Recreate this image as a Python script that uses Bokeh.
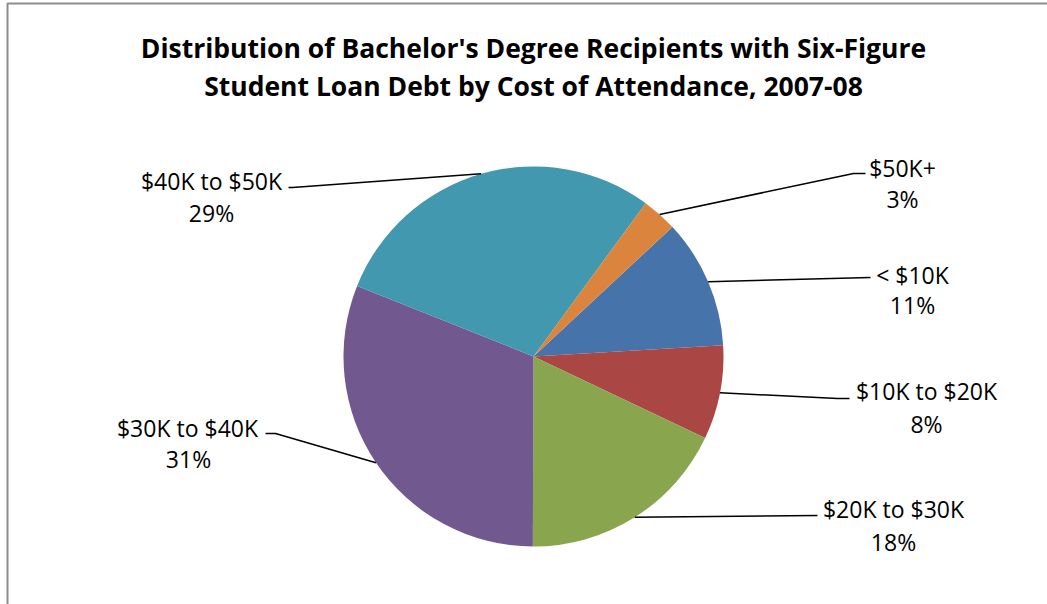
import numpy as np
from bokeh.plotting import figure
from bokeh.models import Range1d, ColumnDataSource
from bokeh.core.properties import value
from bokeh.embed import file_html
from bokeh.resources import INLINE

# ---- data ----
title_lines = ["Distribution of Bachelor's Degree Recipients with Six-Figure",
               "Student Loan Debt by Cost of Attendance, 2007-08"]
categories = ["< $10K", "$10K to $20K", "$20K to $30K", "$30K to $40K", "$40K to $50K", "$50K+"]
shares = [11, 8, 18, 31, 29, 3]
colors = ["#4673A9", "#AA4744", "#89A54E", "#71588F", "#4198AF", "#DB843D"]

# ---- layout (pixel coordinates, image space: y down) ----
W, H = 1047, 604
CX, CY, R = 533, 356, 190
START_DEG = 43.0  # first slice starts here and runs clockwise
# leader elbow/end points and label centres (name, pct) per slice
leader_pts = [
    [(870, 277)],
    [(837, 398), (849, 398)],
    [(817, 515)],
    [(275, 433), (265, 433)],
    [(292, 187), (288, 187)],
    [(853, 173), (865, 173)],
]
label_xy = [(912, 274), (926, 390), (893, 508), (187, 427), (211, 180), (902, 167)]
pct_xy = [(912, 304), (926, 423), (893, 541), (188, 458), (211, 212), (902, 198)]

FONT = "Open Sans"

def fy(y):
    return H - y

p = figure(width=W, height=H, x_range=Range1d(0, W), y_range=Range1d(0, H),
           x_axis_type=None, y_axis_type=None, toolbar_location=None,
           output_backend="svg", min_border=0, outline_line_color=None)
p.grid.visible = False
p.background_fill_color = "white"
p.border_fill_color = "white"

# chart border (left and top visible)
p.line(x=[7, 7, W + 5], y=[fy(H + 5), fy(3), fy(3)], line_color="#8c8c8c", line_width=2)

# pie
fr = np.array(shares, dtype=float) / sum(shares)
ang0 = np.deg2rad(START_DEG)
cum = np.concatenate([[0], np.cumsum(fr)])
starts = ang0 - cum[:-1] * 2 * np.pi   # larger angle
ends = ang0 - cum[1:] * 2 * np.pi      # smaller angle
mids = (starts + ends) / 2

src = ColumnDataSource(dict(start=ends, end=starts, color=colors, cat=categories))
p.wedge(x=CX, y=fy(CY), radius=R, radius_units="screen", start_angle="start",
        end_angle="end", direction="anticlock", fill_color="color", line_color=None,
        source=src)

# leader lines
xs, ys = [], []
for m, pts in zip(mids, leader_pts):
    ex = CX + R * np.cos(m)
    ey = fy(CY) + R * np.sin(m)
    xs.append([ex] + [q[0] for q in pts])
    ys.append([ey] + [fy(q[1]) for q in pts])
p.multi_line(xs=xs, ys=ys, line_color="black", line_width=1.5)

# labels
p.text(x=[q[0] for q in label_xy], y=[fy(q[1]) for q in label_xy], text=categories,
       text_font=value(FONT), text_font_size="23px", text_align="center",
       text_baseline="middle", text_color="black")
p.text(x=[q[0] for q in pct_xy], y=[fy(q[1]) for q in pct_xy],
       text=[f"{s}%" for s in shares],
       text_font=value(FONT), text_font_size="23px", text_align="center",
       text_baseline="middle", text_color="black")

# title
p.text(x=[533, 533], y=[fy(47), fy(85)], text=title_lines,
       text_font=value(FONT), text_font_size="26.5px", text_font_style="bold",
       text_align="center", text_baseline="middle", text_color="black")

open("out.html", "w").write(file_html(p, INLINE))
